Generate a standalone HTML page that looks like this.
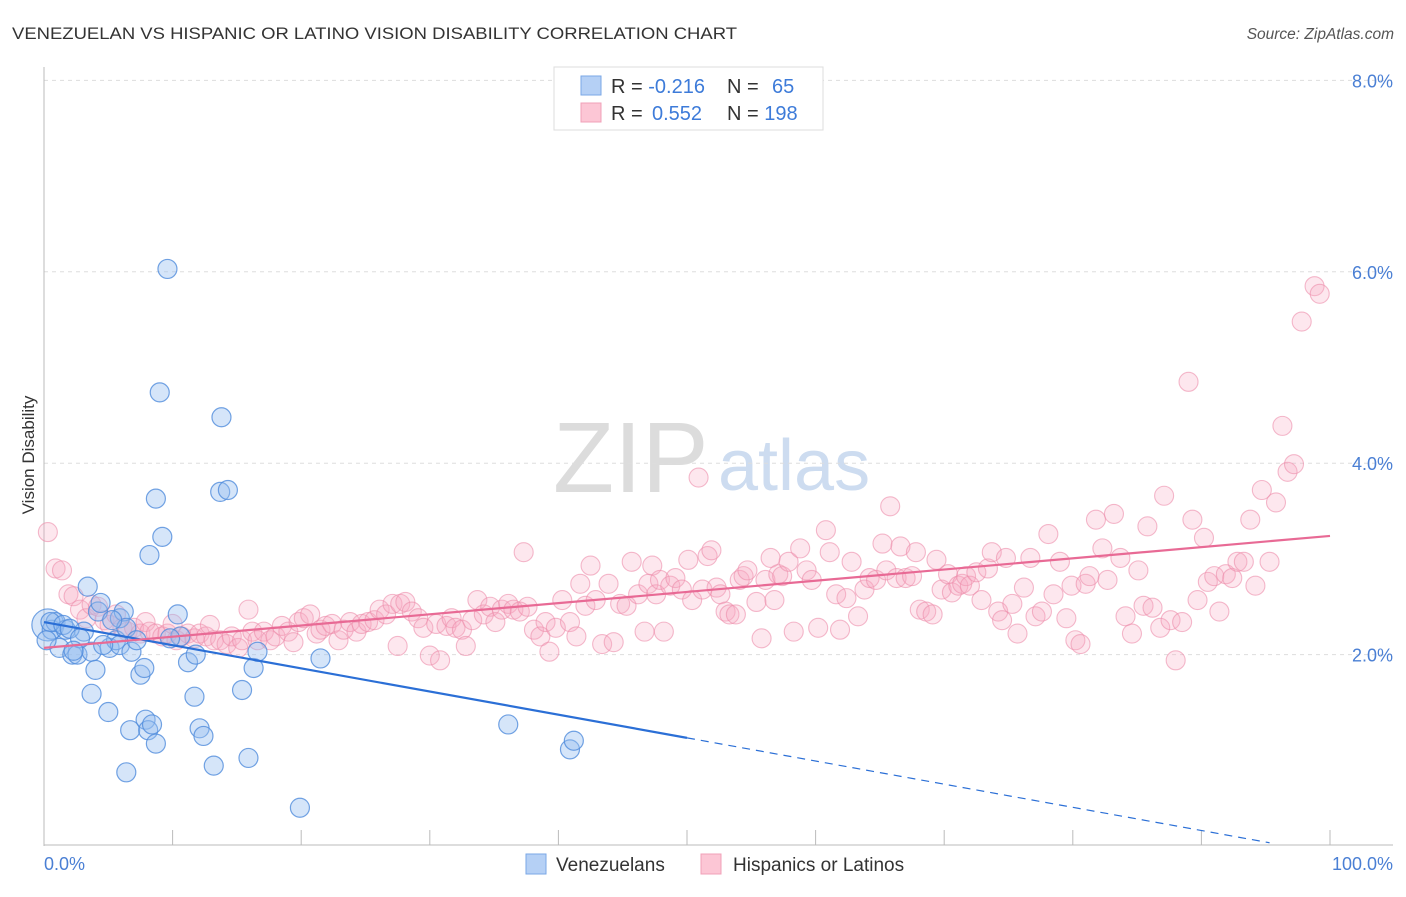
<!DOCTYPE html>
<html><head><meta charset="utf-8"><style>
body{margin:0;background:#fff;font-family:"Liberation Sans",sans-serif}
svg text{font-family:"Liberation Sans",sans-serif}
</style></head><body>
<svg id="chart" width="1406" height="892" xmlns="http://www.w3.org/2000/svg">
<text x="12" y="39" font-size="17" fill="#333" textLength="725" lengthAdjust="spacingAndGlyphs">VENEZUELAN VS HISPANIC OR LATINO VISION DISABILITY CORRELATION CHART</text>
<text x="1394" y="39" font-size="15.5" fill="#555" font-style="italic" text-anchor="end">Source: ZipAtlas.com</text>
<g>
<text x="553" y="492" font-size="100" fill="#dcdcdc" font-family="Liberation Serif,serif">ZIP</text>
<text x="718" y="490" font-size="72" fill="#cddcf0">atlas</text>
</g>
<g id="grid"></g>
<g id="axes"></g>
<g id="pink"></g>
<g id="blue"></g>
<g id="lines"></g>
<text transform="translate(34,455) rotate(-90)" font-size="17" fill="#333" text-anchor="middle">Vision Disability</text>
<text x="44" y="870" font-size="18" fill="#4a7fd4">0.0%</text>
<text x="1393" y="870" font-size="18" fill="#4a7fd4" text-anchor="end">100.0%</text>
<g>
<rect x="554" y="67" width="269" height="63" fill="#fff" stroke="#ddd"/>
<rect x="581" y="76" width="20" height="19" fill="#b5d0f5" stroke="#7aa7e6"/>
<rect x="581" y="103" width="20" height="19" fill="#fcc6d5" stroke="#f0a0b8"/>
<text x="611" y="93" font-size="20" fill="#333">R = <tspan fill="#3d7bd9">-0.216</tspan></text>
<text x="727" y="93" font-size="20" fill="#333">N =  <tspan fill="#3d7bd9" x="772">65</tspan></text>
<text x="611" y="120" font-size="20" fill="#333">R = <tspan fill="#3d7bd9" x="652">0.552</tspan></text>
<text x="727" y="120" font-size="20" fill="#333">N = <tspan fill="#3d7bd9">198</tspan></text>
</g>
<g>
<rect x="526" y="854" width="20" height="20" fill="#b5d0f5" stroke="#7aa7e6"/>
<text x="556" y="871" font-size="19" fill="#333">Venezuelans</text>
<rect x="701" y="854" width="20" height="20" fill="#fcc6d5" stroke="#f0a0b8"/>
<text x="733" y="871" font-size="19" fill="#333">Hispanics or Latinos</text>
</g>
</svg>
<script>
const yTicks=[2,4,6,8];
const yTickLabels=["2.0%","4.0%","6.0%","8.0%"];
const xTicks=[0,10,20,30,40,50,60,70,80,90,100];
const venX=[0.3,0.6,0.9,1.2,1.7,2.2,2.6,3.4,4.2,4.4,3.1,3.7,4.0,3.7,5.0,5.1,5.9,6.2,5.6,5.9,6.4,6.8,6.7,6.4,7.5,7.8,7.9,8.1,8.4,8.7,8.2,8.7,9.2,9.0,9.6,10.4,10.6,11.2,11.8,11.7,12.1,12.4,13.2,13.8,13.7,14.3,15.4,15.9,16.3,16.6,19.9,21.5,36.1,40.9,41.2,0.5,1.5,2.0,2.8,4.6,5.3,7.2,9.8,2.3,0.2];
const venY=[2.31,2.26,2.34,2.07,2.26,2.0,2.0,2.71,2.45,2.54,2.24,2.03,1.84,1.59,1.40,2.07,2.38,2.45,2.15,2.10,2.28,2.03,1.21,0.77,1.79,1.86,1.32,1.21,1.27,1.07,3.04,3.63,3.23,4.74,6.03,2.42,2.19,1.92,2.0,1.56,1.23,1.15,0.84,4.48,3.70,3.72,1.63,0.92,1.86,2.03,0.40,1.96,1.27,1.01,1.10,2.34,2.31,2.27,2.17,2.10,2.36,2.15,2.17,2.04,2.15];
const hisX=[0.3,0.9,1.4,1.9,2.3,2.8,3.3,3.7,4.2,4.7,5.1,5.6,6.1,6.5,7.0,7.5,7.9,8.2,8.7,9.2,9.6,10.0,10.3,10.7,11.2,11.7,12.1,12.6,12.9,13.2,13.7,14.2,14.6,15.1,15.4,15.9,16.2,16.6,17.1,17.6,18.0,18.5,19.0,19.4,19.8,20.2,20.7,21.2,21.5,21.9,22.4,22.9,23.3,23.8,24.3,24.7,25.2,25.7,26.1,26.6,27.1,27.5,27.7,28.1,28.6,29.1,29.5,30.0,30.5,30.8,31.3,31.7,32.0,32.5,32.8,33.3,33.7,34.2,34.7,35.1,35.6,36.1,36.5,37.0,37.3,37.6,38.1,38.6,39.0,39.3,39.8,40.3,40.9,41.4,41.7,42.1,42.5,42.9,43.4,43.9,44.3,44.8,45.3,45.7,46.2,46.7,47.0,47.3,47.6,47.9,48.2,48.7,49.1,49.6,50.1,50.4,50.9,51.2,51.6,51.9,52.3,52.6,53.0,53.3,53.8,54.1,54.4,54.7,55.4,55.8,56.1,56.5,56.8,57.1,57.4,57.9,58.3,58.8,59.3,59.7,60.2,60.8,61.1,61.6,61.9,62.4,62.8,63.3,63.8,64.2,64.7,65.2,65.5,65.8,66.3,66.6,67.0,67.5,67.8,68.1,68.6,69.1,69.4,69.8,70.3,70.6,71.1,71.4,71.7,72.0,72.5,72.9,73.4,73.7,74.2,74.5,74.8,75.3,75.7,76.2,76.7,77.1,77.6,78.1,78.5,79.0,79.5,79.9,80.2,80.6,81.0,81.3,81.8,82.3,82.7,83.2,83.7,84.1,84.6,85.1,85.5,85.8,86.2,86.8,87.1,87.6,88.0,88.5,89.0,89.3,89.7,90.2,90.5,91.0,91.4,91.9,92.4,92.8,93.3,93.8,94.2,94.7,95.3,95.8,96.3,96.7,97.2,97.8,98.8,99.2];
const hisY=[3.28,2.90,2.88,2.63,2.61,2.47,2.38,2.52,2.50,2.36,2.31,2.42,2.28,2.24,2.28,2.22,2.34,2.24,2.22,2.19,2.22,2.32,2.15,2.19,2.22,2.17,2.22,2.19,2.31,2.15,2.15,2.11,2.19,2.07,2.15,2.47,2.24,2.15,2.24,2.15,2.19,2.30,2.24,2.13,2.34,2.38,2.42,2.22,2.26,2.30,2.32,2.15,2.26,2.34,2.24,2.32,2.34,2.36,2.47,2.42,2.53,2.09,2.53,2.55,2.45,2.38,2.28,1.99,2.32,1.94,2.30,2.38,2.28,2.26,2.09,2.36,2.57,2.42,2.50,2.34,2.47,2.53,2.47,2.45,3.07,2.50,2.26,2.19,2.34,2.03,2.28,2.57,2.34,2.19,2.74,2.51,2.93,2.57,2.11,2.74,2.13,2.53,2.51,2.97,2.63,2.24,2.74,2.93,2.63,2.78,2.24,2.72,2.80,2.68,2.99,2.57,3.85,2.68,3.03,3.09,2.70,2.63,2.45,2.42,2.42,2.78,2.82,2.88,2.55,2.17,2.78,3.01,2.57,2.84,2.82,2.97,2.24,3.11,2.88,2.78,2.28,3.30,3.07,2.63,2.26,2.59,2.97,2.40,2.68,2.80,2.78,3.16,2.88,3.55,2.80,3.13,2.80,2.82,3.07,2.47,2.45,2.42,2.99,2.68,2.84,2.65,2.72,2.74,2.82,2.72,2.86,2.57,2.90,3.07,2.45,2.36,3.01,2.53,2.22,2.70,3.01,2.40,2.45,3.26,2.63,2.97,2.38,2.72,2.15,2.11,2.74,2.82,3.41,3.11,2.78,3.47,3.01,2.40,2.22,2.88,2.51,3.34,2.49,2.28,3.66,2.36,1.94,2.34,4.85,3.41,2.57,3.22,2.76,2.82,2.45,2.84,2.80,2.97,2.97,3.41,2.72,3.72,2.97,3.59,4.39,3.91,3.99,5.48,5.85,5.77];
const venTrend=[2.34,-0.0242];
const hisTrend=[2.07,0.0117];

const NS="http://www.w3.org/2000/svg";
const X0=44,X1=1330,Y0=846,PPU=95.7;
const sx=v=>X0+(X1-X0)*v/100;
const sy=v=>Y0-v*PPU;
function mk(tag,attrs,parent){const e=document.createElementNS(NS,tag);for(const k in attrs)e.setAttribute(k,attrs[k]);parent.appendChild(e);return e;}
const grid=document.getElementById('grid'),axes=document.getElementById('axes');
yTicks.forEach((t,i)=>{
  const l=mk('line',{x1:44,x2:1393,y1:sy(t),y2:sy(t),stroke:'#ddd','stroke-dasharray':'4,4'},grid);
  
  
  const tx=mk('text',{x:1393,y:sy(t)+7,'font-size':18,fill:'#4a7fd4','text-anchor':'end'},grid);
  tx.textContent=yTickLabels[i];
  
  
});
const ya=mk('line',{x1:44,x2:44,y1:67,y2:846,stroke:'#bbb'},axes);


const xa=mk('line',{x1:44,x2:1393,y1:845,y2:845,stroke:'#bbb'},axes);


xTicks.forEach(t=>{
  const l=mk('line',{x1:sx(t),x2:sx(t),y1:830,y2:845,stroke:'#bbb'},axes);
  
  
});
const pg=document.getElementById('pink');
hisX.forEach((x,i)=>{
  const c=mk('circle',{cx:sx(x),cy:sy(hisY[i]),r:9.5,fill:'rgba(248,170,195,0.28)',stroke:'rgba(236,140,170,0.6)','stroke-width':1.1},pg);
  
  
});
const bg=document.getElementById('blue');
venX.forEach((x,i)=>{
  const c=mk('circle',{cx:sx(x),cy:sy(venY[i]),r:(i===0?16:9.5),fill:'rgba(150,190,240,0.4)',stroke:'rgba(80,140,220,0.8)','stroke-width':1.2},bg);
  
  
});
const lg=document.getElementById('lines');
const vf=x=>venTrend[0]+venTrend[1]*x, hf=x=>hisTrend[0]+hisTrend[1]*x;
const vl=mk('line',{x1:sx(0),y1:sy(vf(0)),x2:sx(50),y2:sy(vf(50)),stroke:'#2b6fd6','stroke-width':2.2},lg);


const vxEnd=Math.min(95.3,venTrend[0]/-venTrend[1]);
const vd=mk('line',{x1:sx(50),y1:sy(vf(50)),x2:sx(vxEnd),y2:sy(vf(vxEnd)),stroke:'#2b6fd6','stroke-width':1.2,'stroke-dasharray':'8,6'},lg);


const hl=mk('line',{x1:sx(0),y1:sy(hf(0)),x2:sx(100),y2:sy(hf(100)),stroke:'#e86a95','stroke-width':2.2},lg);


</script>
</body></html>
